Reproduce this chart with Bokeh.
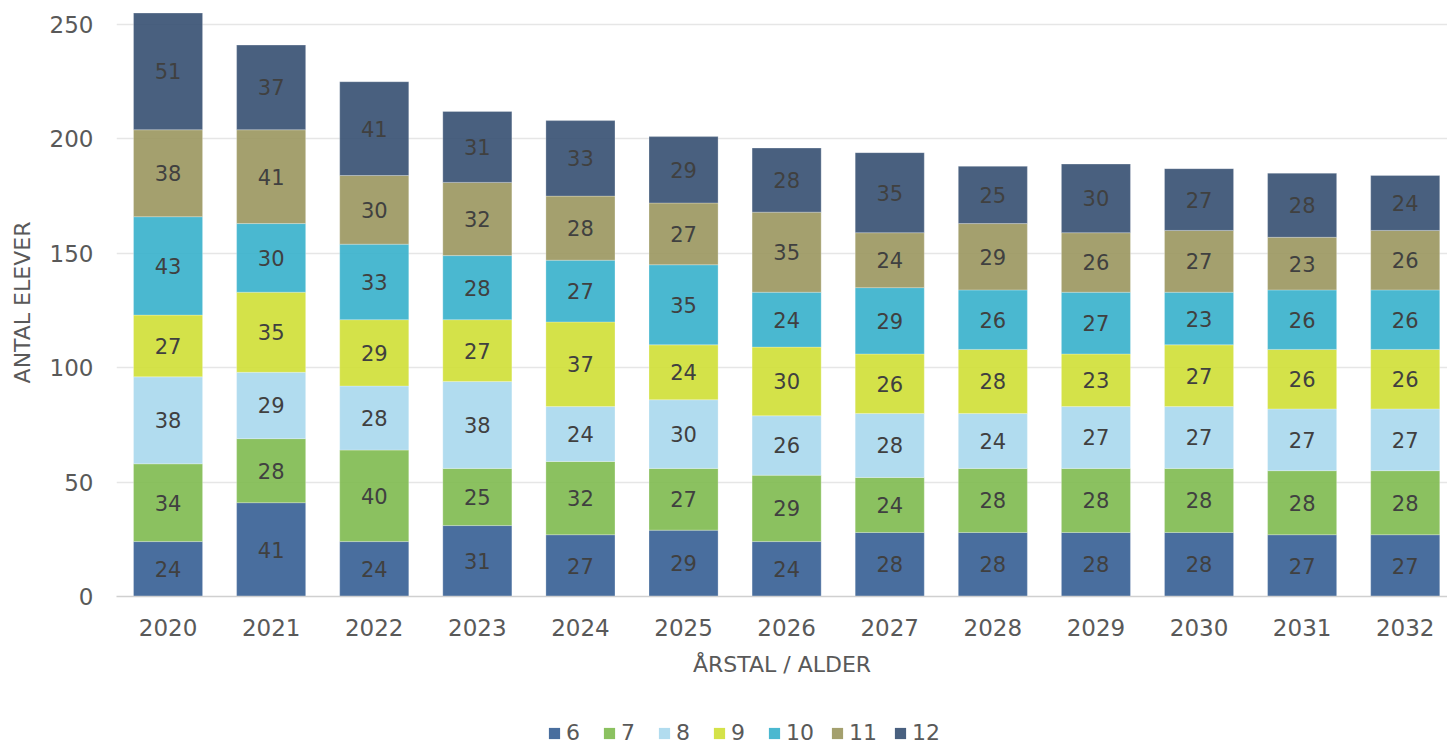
from bokeh.plotting import figure
from bokeh.layouts import column
from bokeh.models import ColumnDataSource, Range1d, FixedTicker, Legend, LegendItem
from bokeh.core.properties import value
from bokeh.embed import file_html
from bokeh.resources import INLINE

years = [2020, 2021, 2022, 2023, 2024, 2025, 2026, 2027, 2028, 2029, 2030, 2031, 2032]
series_names = ["6", "7", "8", "9", "10", "11", "12"]
age6 = [24, 41, 24, 31, 27, 29, 24, 28, 28, 28, 28, 27, 27]
age7 = [34, 28, 40, 25, 32, 27, 29, 24, 28, 28, 28, 28, 28]
age8 = [38, 29, 28, 38, 24, 30, 26, 28, 24, 27, 27, 27, 27]
age9 = [27, 35, 29, 27, 37, 24, 30, 26, 28, 23, 27, 26, 26]
age10 = [43, 30, 33, 28, 27, 35, 24, 29, 26, 27, 23, 26, 26]
age11 = [38, 41, 30, 32, 28, 27, 35, 24, 29, 26, 27, 23, 26]
age12 = [51, 37, 41, 31, 33, 29, 28, 35, 25, 30, 27, 28, 24]
y_ticks = [0, 50, 100, 150, 200, 250]

colors = ["#3a6296", "#81bc52", "#aad9ee", "#d0e03a", "#3bb2cc", "#9c9862", "#3a5274"]
series = [age6, age7, age8, age9, age10, age11, age12]

FONT = "DejaVu Sans"

data = {"year": years}
for name, vals in zip(series_names, series):
    data[name] = vals
source = ColumnDataSource(data)

p = figure(frame_width=1331, frame_height=588, output_backend="svg", toolbar_location=None,
           x_range=Range1d(2019.5, 2032.41), y_range=Range1d(0, 257),
           min_border_left=116, min_border_right=0, min_border_top=8, min_border_bottom=90)
p.outline_line_color = None

renderers = p.vbar_stack(series_names, x="year", width=0.67, source=source,
                         color=colors, fill_alpha=0.92, line_color="white",
                         line_alpha=0.5, line_width=0.5)

# labels
lx, ly, lt = [], [], []
cum = [0] * len(years)
for vals in series:
    for i, v in enumerate(vals):
        lx.append(years[i])
        ly.append(cum[i] + v / 2)
        lt.append(str(v))
        cum[i] += v
lsrc = ColumnDataSource(dict(x=lx, y=ly, t=lt))
p.text(x="x", y="y", text="t", source=lsrc, text_align="center", text_baseline="middle",
       text_font=value(FONT), text_font_size="21px", text_color="#404040")

# axes
p.xaxis.ticker = FixedTicker(ticks=years)
p.yaxis.ticker = FixedTicker(ticks=y_ticks)
for ax in (p.xaxis[0], p.yaxis[0]):
    ax.major_tick_line_color = None
    ax.minor_tick_line_color = None
    ax.major_label_text_font = FONT
    ax.major_label_text_font_size = "23px"
    ax.major_label_text_color = "#595959"
    ax.axis_label_text_font = FONT
    ax.axis_label_text_font_size = "22px"
    ax.axis_label_text_color = "#595959"
    ax.axis_label_text_font_style = "normal"
p.xaxis.axis_line_color = "#d0d0d0"
p.xaxis.axis_line_width = 1.5
p.yaxis.axis_line_color = None
p.xaxis.axis_label = "ÅRSTAL / ALDER"
p.yaxis.axis_label = "ANTAL ELEVER"
p.xaxis.major_label_standoff = 16
p.xaxis.axis_label_standoff = 13
p.yaxis.major_label_standoff = 17
p.yaxis.axis_label_standoff = 12

p.xgrid.grid_line_color = None
p.ygrid.grid_line_color = "#e6e6e6"
p.ygrid.grid_line_width = 1.5

# legend strip (its bars fall outside its own ranges; only the legend shows)
p2 = figure(width=1447, height=60, output_backend="svg", toolbar_location=None,
            x_axis_type=None, y_axis_type=None,
            x_range=Range1d(0, 1), y_range=Range1d(0, 1),
            min_border_left=0, min_border_right=0, min_border_top=0, min_border_bottom=0)
p2.outline_line_color = None
p2.grid.visible = False
leg_renderers = p2.vbar_stack(series_names, x="year", width=0.67, source=source,
                              color=colors, fill_alpha=0.92, line_alpha=0)
legend = Legend(items=[LegendItem(label=n, renderers=[r]) for n, r in zip(series_names, leg_renderers)],
                orientation="horizontal", location=(431, 1),
                label_text_font=FONT, label_text_font_size="22px", label_text_color="#595959",
                glyph_width=14, glyph_height=14, label_standoff=5, spacing=16,
                border_line_color=None, background_fill_alpha=0, margin=0, padding=0)
p2.add_layout(legend, "center")

layout = column(p, p2, spacing=0)
open("out.html", "w").write(file_html(layout, INLINE))
